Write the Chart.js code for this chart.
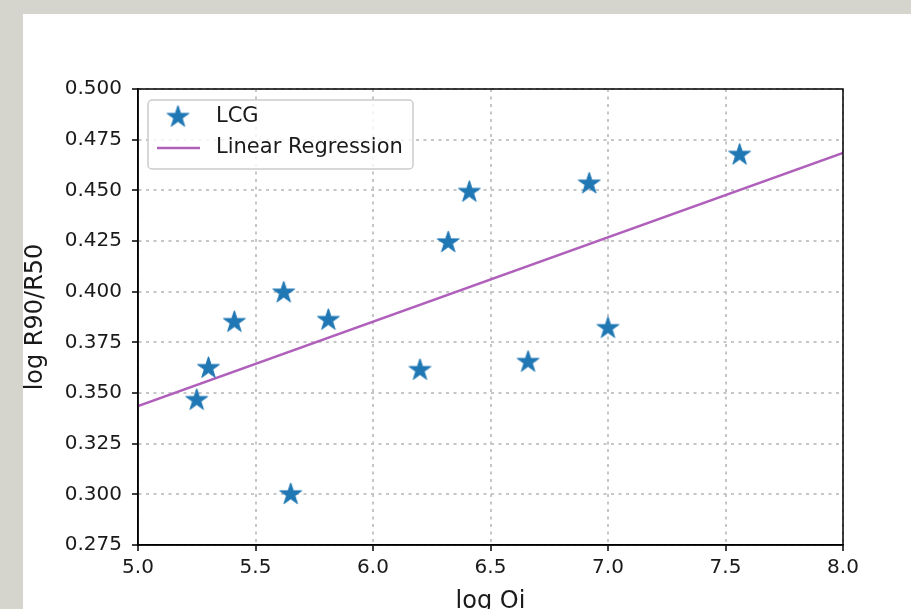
<!DOCTYPE html>
<html lang="en">
<head>
  <meta charset="UTF-8">
  <title>LCG - log R90/R50 vs log Oi</title>
  <script src="https://cdn.jsdelivr.net/npm/chart.js"></script>
  <style>
    html, body { margin: 0; padding: 0; overflow: hidden; background: #d5d5cd; }
    .painel { position: absolute; left: 23px; top: 14px; right: 0; bottom: 0; background: #fff; }
    #grafico { position: absolute; left: 0; top: 0; }
  </style>
</head>
<body>
  <div class="painel"></div>
  <canvas id="grafico" width="911" height="630"></canvas>

<script>
  // valores
  const logOi = [5.25, 5.30, 5.41, 5.62, 5.65, 5.81, 6.20, 6.32, 6.41, 6.66, 6.92, 7.00, 7.56];
  const logR9050 = [0.3465, 0.3623, 0.385, 0.3995, 0.300, 0.386, 0.3613, 0.4243, 0.4492, 0.3653, 0.4533, 0.382, 0.4675];

  // reta de regressao (extremos)
  const regX = [5.0, 8.0];
  const regY = [0.3436, 0.4684];

  const xTicks = [5.0, 5.5, 6.0, 6.5, 7.0, 7.5, 8.0];
  const yTicks = [0.275, 0.300, 0.325, 0.350, 0.375, 0.400, 0.425, 0.450, 0.475, 0.500];

  const azul = '#1f77b4';
  const roxo = '#b060bb';
  const fonte = '"DejaVu Sans", sans-serif';

  function estrela(r, cor) {
    const c = document.createElement('canvas');
    const s = Math.ceil(r * 2 + 4);
    c.width = s;
    c.height = s;
    const g = c.getContext('2d');
    g.translate(s / 2, s / 2);
    g.beginPath();
    for (let i = 0; i < 10; i++) {
      const a = -Math.PI / 2 + i * Math.PI / 5;
      const rr = i % 2 === 0 ? r : r * 0.381966;
      g.lineTo(Math.cos(a) * rr, Math.sin(a) * rr);
    }
    g.closePath();
    g.fillStyle = cor;
    g.fill();
    g.strokeStyle = cor;
    g.lineWidth = 1;
    g.stroke();
    return c;
  }

  const marcador = estrela(11.5, azul);

  const pontos = logOi.map((x, i) => ({ x: x, y: logR9050[i] }));
  const reta = regX.map((x, i) => ({ x: x, y: regY[i] }));

  // moldura (eixos de cima e da direita) e legenda dentro da area
  const molduraLegenda = {
    id: 'molduraLegenda',
    afterDraw(chart) {
      const { ctx, chartArea: a } = chart;
      ctx.save();
      ctx.strokeStyle = '#000';
      ctx.lineWidth = 1.5;
      ctx.strokeRect(a.left, a.top, a.right - a.left, a.bottom - a.top);

      const bx = a.left + 10, by = a.top + 11, bw = 265, bh = 69, rad = 4;
      ctx.beginPath();
      ctx.roundRect(bx, by, bw, bh, rad);
      ctx.fillStyle = 'rgba(255,255,255,0.8)';
      ctx.fill();
      ctx.strokeStyle = '#cccccc';
      ctx.lineWidth = 1.5;
      ctx.stroke();

      const sets = chart.data.datasets;
      ctx.drawImage(marcador, bx + 30 - marcador.width / 2, by + 17 - marcador.height / 2);
      ctx.beginPath();
      ctx.moveTo(bx + 9, by + 48);
      ctx.lineTo(bx + 52, by + 48);
      ctx.strokeStyle = roxo;
      ctx.lineWidth = 2.5;
      ctx.stroke();

      ctx.fillStyle = '#1a1a1a';
      ctx.font = '21px ' + fonte;
      ctx.textBaseline = 'middle';
      ctx.fillText(sets[0].label, bx + 68, by + 17);
      ctx.fillText(sets[1].label, bx + 68, by + 48);
      ctx.restore();
    }
  };

  const gradeComum = {
    color: '#c6c6c6',
    lineWidth: 2,
    tickColor: '#000',
    tickWidth: 1.5,
    tickLength: 6
  };

  new Chart(document.getElementById('grafico'), {
    type: 'scatter',
    data: {
      datasets: [{
        label: 'LCG',
        data: pontos,
        pointStyle: marcador,
        pointRadius: 11,
        showLine: false
      }, {
        type: 'line',
        label: 'Linear Regression',
        data: reta,
        borderColor: roxo,
        borderWidth: 2.5,
        pointRadius: 0,
        fill: false
      }]
    },
    options: {
      responsive: false,
      animation: false,
      devicePixelRatio: 1,
      layout: { padding: { left: 21, top: 89, right: 68, bottom: 14 } },
      plugins: { legend: { display: false }, tooltip: { enabled: false } },
      scales: {
        x: {
          type: 'linear',
          min: 5.0,
          max: 8.0,
          afterFit: s => { s.height = 71; },
          afterBuildTicks: s => { s.ticks = xTicks.map(v => ({ value: v })); },
          grid: gradeComum,
          border: { color: '#000', width: 1.5, dash: [3, 4.5] },
          ticks: {
            color: '#1a1a1a',
            padding: 5,
            font: { family: fonte, size: 20 },
            callback: v => v.toFixed(1)
          },
          title: {
            display: true,
            text: 'log Oi',
            color: '#1a1a1a',
            padding: 0,
            font: { family: fonte, size: 24 }
          }
        },
        y: {
          type: 'linear',
          min: 0.275,
          max: 0.5,
          afterFit: s => { s.width = 117; },
          afterBuildTicks: s => { s.ticks = yTicks.map(v => ({ value: v })); },
          grid: gradeComum,
          border: { color: '#000', width: 1.5, dash: [3, 4.5] },
          ticks: {
            color: '#1a1a1a',
            padding: 10,
            font: { family: fonte, size: 20 },
            callback: v => v.toFixed(3)
          },
          title: {
            display: true,
            text: 'log R90/R50',
            color: '#1a1a1a',
            padding: 0,
            font: { family: fonte, size: 24 }
          }
        }
      }
    },
    plugins: [molduraLegenda]
  });
</script>
</body>
</html>
